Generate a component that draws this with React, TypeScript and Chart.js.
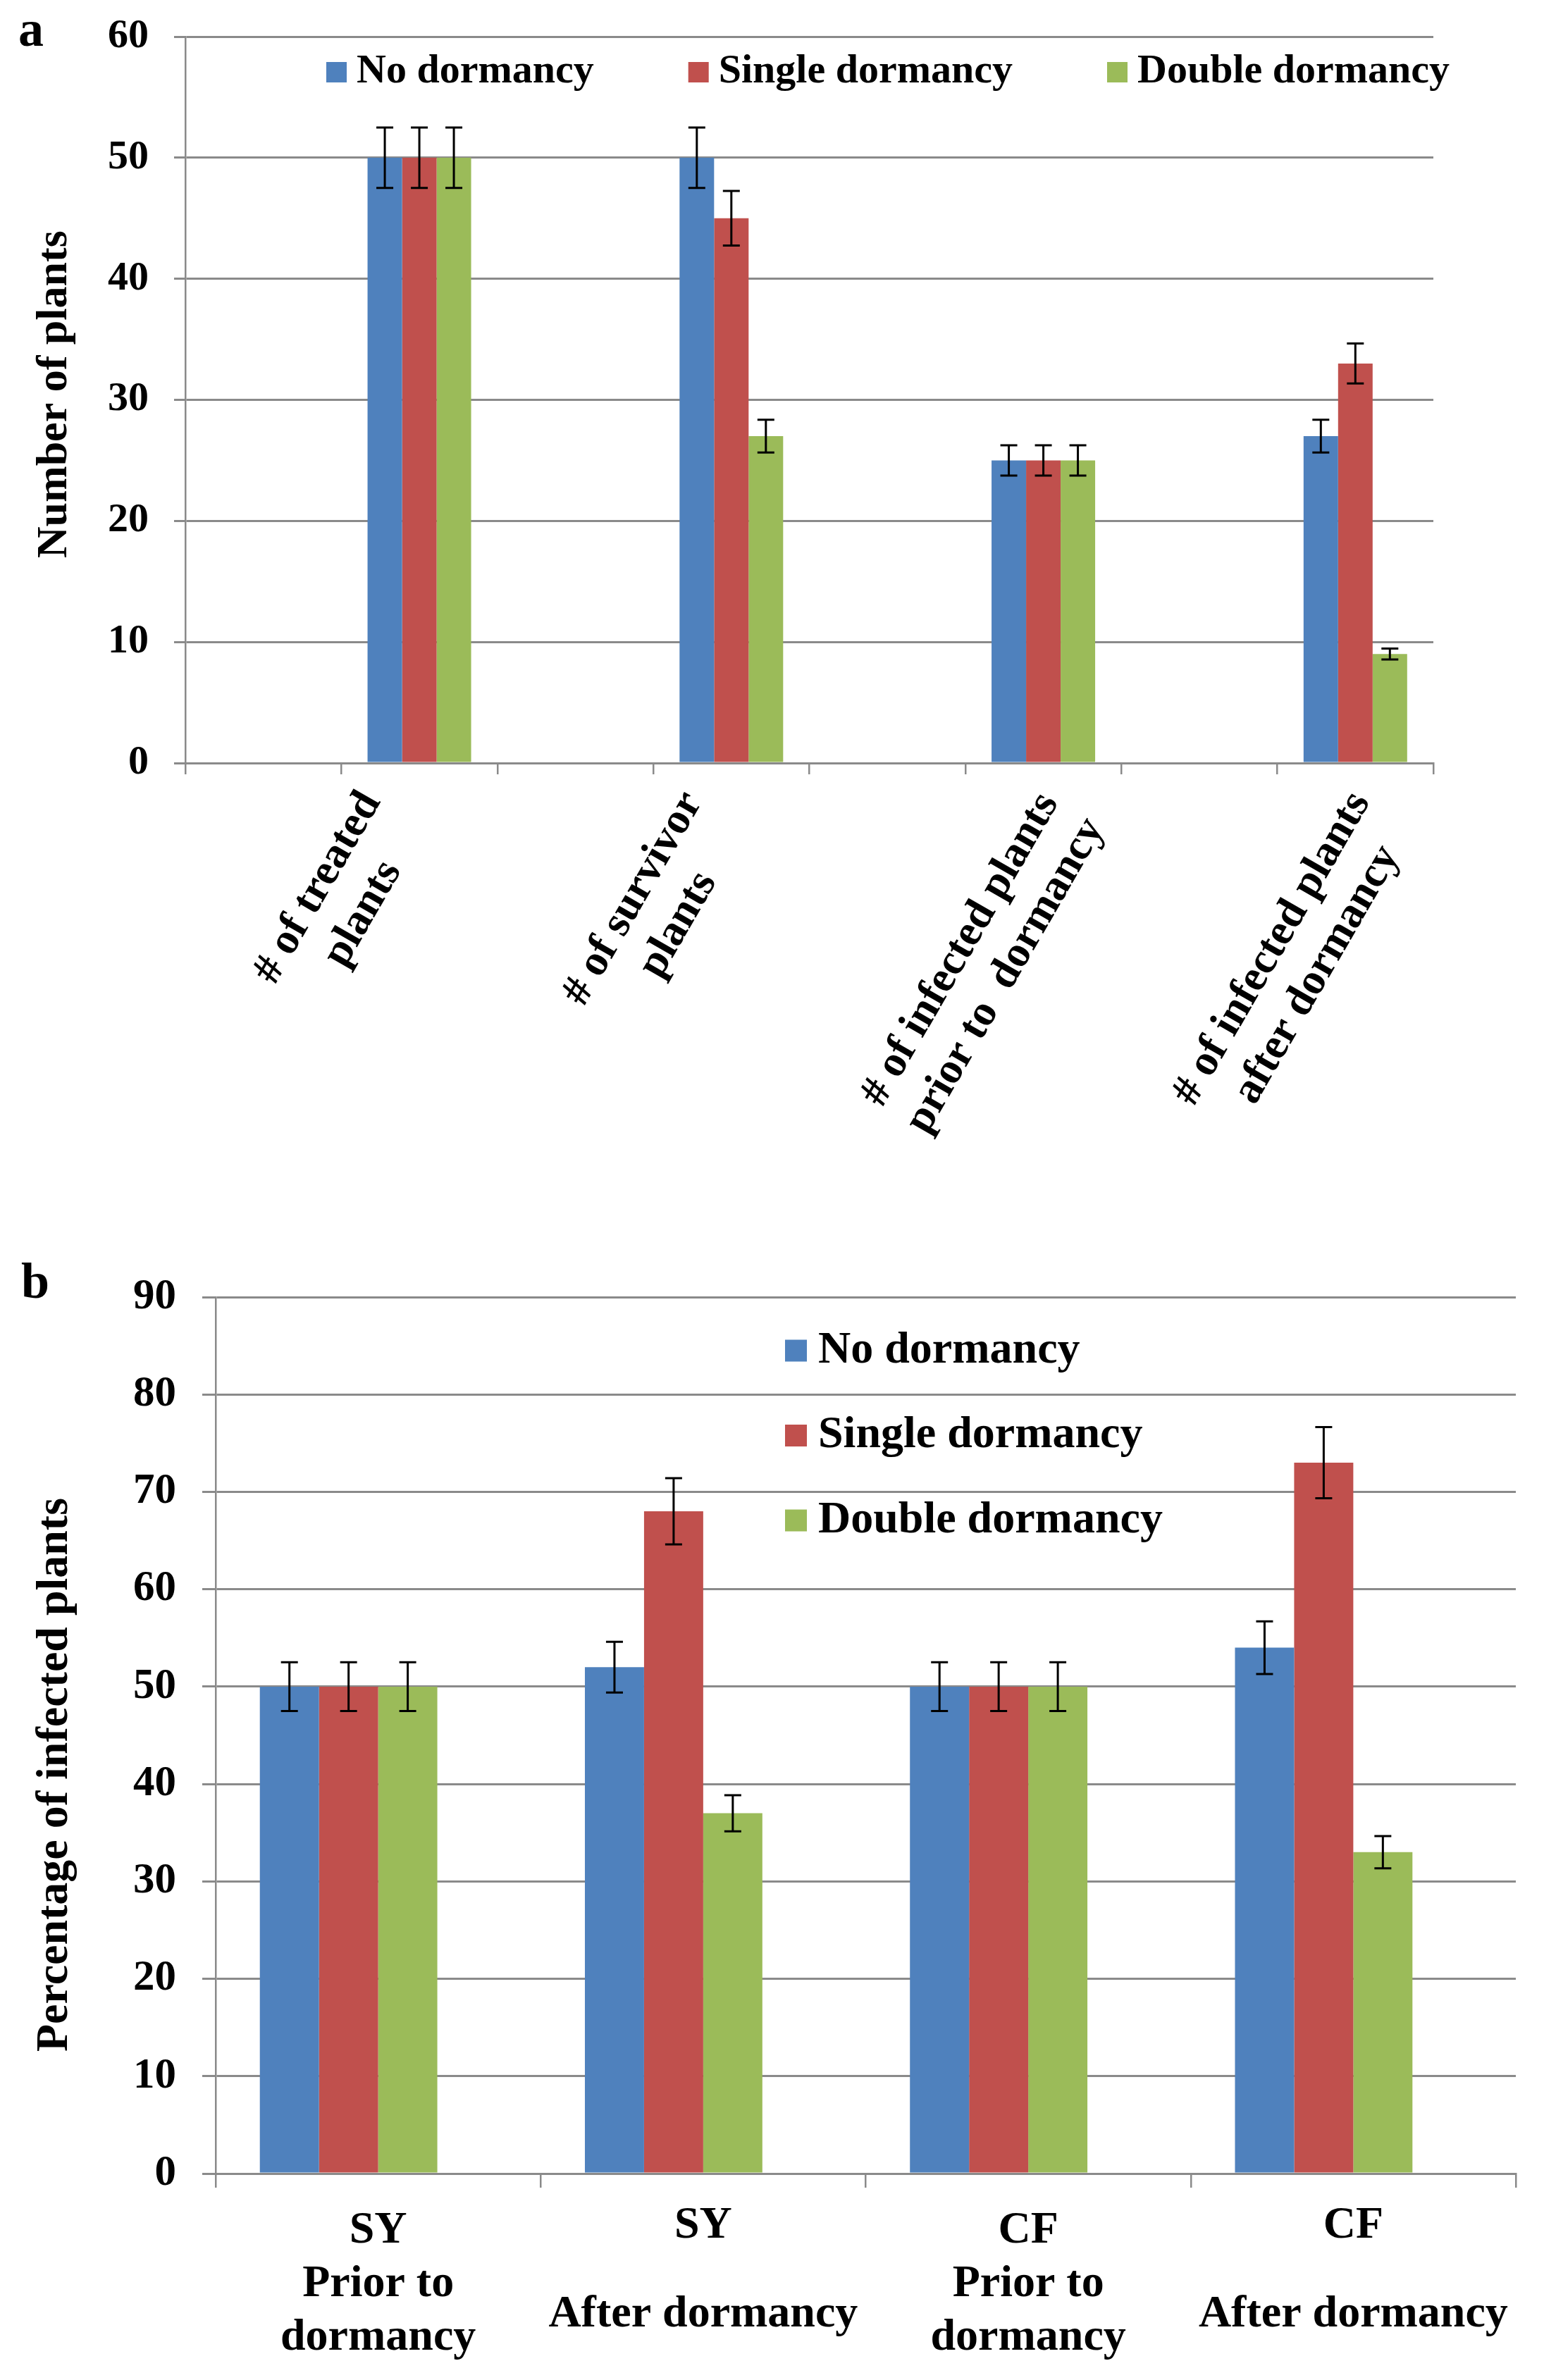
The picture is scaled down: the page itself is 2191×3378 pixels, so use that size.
import React, { useEffect, useRef } from 'react';
import { Chart, registerables } from 'chart.js';

Chart.register(...registerables);

// ---------- shared ----------
const seriesNames = ['No dormancy', 'Single dormancy', 'Double dormancy'];
const seriesColors = ['#4F81BD', '#C0504D', '#9BBB59'];

// ---------- panel a ----------
const categoriesA: string[][] = [
  ['# of treated', 'plants'],
  ['# of survivor', 'plants'],
  ['# of infected plants', 'prior to  dormancy'],
  ['# of infected plants', 'after dormancy'],
];
const noDormancyA = [50, 50, 25, 27];
const singleDormancyA = [50, 45, 25, 33];
const doubleDormancyA = [50, 27, 25, 9];
const noDormancyErrA = [2.5, 2.5, 1.25, 1.35];
const singleDormancyErrA = [2.5, 2.25, 1.25, 1.65];
const doubleDormancyErrA = [2.5, 1.35, 1.25, 0.45];
const yTicksA = [0, 10, 20, 30, 40, 50, 60];
const yTitleA = 'Number of plants';

// ---------- panel b ----------
const categoriesB: string[][] = [
  ['SY', 'Prior to', 'dormancy'],
  ['SY', '', 'After dormancy'],
  ['CF', 'Prior to', 'dormancy'],
  ['CF', '', 'After dormancy'],
];
const noDormancyB = [50, 52, 50, 54];
const singleDormancyB = [50, 68, 50, 73];
const doubleDormancyB = [50, 37, 50, 33];
const noDormancyErrB = [2.5, 2.6, 2.5, 2.7];
const singleDormancyErrB = [2.5, 3.4, 2.5, 3.65];
const doubleDormancyErrB = [2.5, 1.85, 2.5, 1.65];
const yTicksB = [0, 10, 20, 30, 40, 50, 60, 70, 80, 90];
const yTitleB = 'Percentage of infected plants';

const FAMILY = '"Liberation Serif", "Times New Roman", serif';
const GRID = '#8a8a8a';

const errorBars = {
  id: 'errorBars',
  afterDatasetsDraw(chart: any, _args: any, opts: any) {
    const ctx = chart.ctx;
    const y = chart.scales.y;
    const cap = opts.cap ?? 12;
    ctx.save();
    ctx.strokeStyle = '#000';
    ctx.lineWidth = opts.width ?? 3;
    chart.data.datasets.forEach((ds: any, i: number) => {
      if (!ds.errors) return;
      const meta = chart.getDatasetMeta(i);
      meta.data.forEach((el: any, j: number) => {
        const v = ds.data[j];
        const e = ds.errors[j];
        if (v == null || e == null) return;
        const x = el.x;
        const top = y.getPixelForValue(v + e);
        const bot = y.getPixelForValue(v - e);
        ctx.beginPath();
        ctx.moveTo(x, top);
        ctx.lineTo(x, bot);
        ctx.moveTo(x - cap, top);
        ctx.lineTo(x + cap, top);
        ctx.moveTo(x - cap, bot);
        ctx.lineTo(x + cap, bot);
        ctx.stroke();
      });
    });
    ctx.restore();
  },
};

const boxLegend = {
  id: 'boxLegend',
  afterDraw(chart: any, _args: any, opts: any) {
    const ctx = chart.ctx;
    ctx.save();
    ctx.font = `bold ${opts.size}px ${FAMILY}`;
    ctx.textBaseline = 'middle';
    ctx.textAlign = 'left';
    let x = opts.x;
    let y = opts.y;
    chart.data.datasets.forEach((ds: any) => {
      if (ds.inLegend === false) return;
      ctx.fillStyle = ds.backgroundColor;
      ctx.fillRect(x, y - opts.box / 2, opts.box, opts.box);
      ctx.fillStyle = '#000';
      ctx.fillText(ds.label, x + opts.box + opts.gap, y);
      const w = ctx.measureText(ds.label).width;
      if (opts.direction === 'row') x = x + opts.box + opts.gap + w + opts.spacing;
      else y += opts.spacing;
    });
    ctx.restore();
  },
};

// Excel-like slanted, centre-aligned multi-line category labels, placed at the x scale's ticks
const slantedLabels = {
  id: 'slantedLabels',
  afterDraw(chart: any, _args: any, opts: any) {
    const xs = chart.scales.x;
    const ctx = chart.ctx;
    ctx.save();
    ctx.font = `bold ${opts.size}px ${FAMILY}`;
    ctx.fillStyle = '#000';
    ctx.textBaseline = 'middle';
    ctx.textAlign = 'right';
    const L = opts.lineHeight;
    const rot = (-opts.angle * Math.PI) / 180;
    const y0 = xs.top + opts.offsetY;
    chart.data.labels.forEach((lab: any, i: number) => {
      if (!Array.isArray(lab)) return;
      const ws = lab.map((l: string) => ctx.measureText(l).width);
      const W = Math.max(...ws);
      const px = xs.getPixelForTick(i) + opts.slope * W + opts.shift;
      ctx.save();
      ctx.translate(px + (L / 2) * Math.sin(rot), y0);
      ctx.rotate(rot);
      lab.forEach((line: string, k: number) => ctx.fillText(line, -(W - ws[k]) / 2, L / 2 + k * L));
      ctx.restore();
    });
    ctx.restore();
  },
};

function makeChartA(canvas: HTMLCanvasElement) {
  const labels: any[] = categoriesA.flatMap((c) => ['', c]);
  const slot = (arr: number[]) => arr.flatMap((v) => [null, v]);
  const values = [noDormancyA, singleDormancyA, doubleDormancyA];
  const errs = [noDormancyErrA, singleDormancyErrA, doubleDormancyErrA];
  return new Chart(canvas, {
    type: 'bar',
    data: {
      labels,
      datasets: values.map((v, i) => ({
        label: seriesNames[i],
        data: slot(v),
        errors: slot(errs[i]),
        backgroundColor: seriesColors[i],
        borderWidth: 0,
        categoryPercentage: 0.664,
        barPercentage: 1,
      })) as any,
    },
    options: {
      responsive: false,
      maintainAspectRatio: false,
      devicePixelRatio: 1,
      animation: false,
      layout: { padding: { left: 0, top: 52, right: 157, bottom: 0 } },
      plugins: {
        legend: { display: false },
        tooltip: { enabled: false },
        errorBars: { cap: 12, width: 3 },
        boxLegend: { x: 463, y: 102.5, box: 29, gap: 14, spacing: 134, size: 58, direction: 'row' },
        slantedLabels: { size: 62, lineHeight: 74, angle: 60, offsetY: 28, slope: 0.38, shift: -183 },
      } as any,
      scales: {
        x: {
          afterFit: (s: any) => {
            s.height = 637;
            s.paddingLeft = 0;
            s.paddingRight = 0;
          },
          grid: { display: true, offset: true, drawOnChartArea: false, drawTicks: true, tickLength: 16, color: GRID, lineWidth: 2.5 },
          border: { display: true, color: GRID, width: 3 },
          ticks: { display: false, autoSkip: false },
        },
        y: {
          min: yTicksA[0],
          max: yTicksA[yTicksA.length - 1],
          afterFit: (s: any) => {
            s.width = 263;
            s.paddingTop = 0;
            s.paddingBottom = 0;
          },
          grid: { color: GRID, lineWidth: 3, tickLength: 16, drawTicks: true },
          border: { display: true, color: GRID, width: 2.5 },
          ticks: {
            stepSize: yTicksA[1] - yTicksA[0],
            padding: 36,
            color: '#000',
            font: { family: FAMILY, size: 58, weight: 'bold' },
          },
          title: {
            display: true,
            text: ' ' + yTitleA,
            color: '#000',
            padding: { top: 41, bottom: 0 },
            font: { family: FAMILY, size: 62, weight: 'bold' },
          },
        },
      },
    },
    plugins: [errorBars, boxLegend, slantedLabels],
  } as any);
}

function makeChartB(canvas: HTMLCanvasElement) {
  const values = [noDormancyB, singleDormancyB, doubleDormancyB];
  const errs = [noDormancyErrB, singleDormancyErrB, doubleDormancyErrB];
  const datasets: any[] = values.map((v, i) => ({
    label: seriesNames[i],
    data: v,
    errors: errs[i],
    backgroundColor: seriesColors[i],
    borderWidth: 0,
    categoryPercentage: 0.728,
    barPercentage: 1,
  }));
  // empty fourth slot of each group (present in the original Excel chart)
  datasets.push({
    label: '',
    inLegend: false,
    data: categoriesB.map(() => null),
    backgroundColor: 'rgba(0,0,0,0)',
    borderWidth: 0,
    categoryPercentage: 0.728,
    barPercentage: 1,
  });
  return new Chart(canvas, {
    type: 'bar',
    data: { labels: categoriesB as any, datasets },
    options: {
      responsive: false,
      maintainAspectRatio: false,
      devicePixelRatio: 1,
      animation: false,
      layout: { padding: { left: 0, top: 121, right: 40, bottom: 0 } },
      plugins: {
        legend: { display: false },
        tooltip: { enabled: false },
        errorBars: { cap: 12, width: 3 },
        boxLegend: { x: 1114, y: 197, box: 31, gap: 16, spacing: 120.5, size: 64, direction: 'column' },
      } as any,
      scales: {
        x: {
          afterFit: (s: any) => {
            s.height = 293;
            s.paddingLeft = 0;
            s.paddingRight = 0;
          },
          grid: { display: true, offset: true, drawOnChartArea: false, drawTicks: true, tickLength: 20, color: GRID, lineWidth: 2.5 },
          border: { display: true, color: GRID, width: 3 },
          ticks: {
            autoSkip: false,
            maxRotation: 0,
            minRotation: 0,
            padding: 23,
            color: '#000',
            font: (c: any) => ({
              family: FAMILY,
              size: 64,
              weight: 'bold',
              lineHeight: Array.isArray(c.tick?.label) && c.tick.label.includes('') ? '63px' : '76px',
            }),
          },
        },
        y: {
          min: yTicksB[0],
          max: yTicksB[yTicksB.length - 1],
          afterFit: (s: any) => {
            s.width = 306;
            s.paddingTop = 0;
            s.paddingBottom = 0;
          },
          grid: { color: GRID, lineWidth: 3, tickLength: 19, drawTicks: true },
          border: { display: true, color: GRID, width: 2.5 },
          ticks: {
            stepSize: yTicksB[1] - yTicksB[0],
            padding: 37,
            color: '#000',
            font: { family: FAMILY, size: 61, weight: 'bold' },
          },
          title: {
            display: true,
            text: yTitleB + '       ',
            color: '#000',
            padding: { top: 40, bottom: 0 },
            font: { family: FAMILY, size: 64, weight: 'bold' },
          },
        },
      },
    },
    plugins: [errorBars, boxLegend],
  } as any);
}

export default function App() {
  const refA = useRef<HTMLCanvasElement | null>(null);
  const refB = useRef<HTMLCanvasElement | null>(null);

  useEffect(() => {
    const a = refA.current ? makeChartA(refA.current) : null;
    const b = refB.current ? makeChartB(refB.current) : null;
    return () => {
      a?.destroy();
      b?.destroy();
    };
  }, []);

  const letter: React.CSSProperties = {
    position: 'absolute',
    fontFamily: FAMILY,
    fontWeight: 'bold',
    fontSize: 72,
    lineHeight: '72px',
    color: '#000',
  };

  return (
    <div style={{ position: 'absolute', left: 0, top: 0, width: 2191, height: 3378, background: '#fff', overflow: 'hidden' }}>
      <canvas ref={refA} width={2191} height={1720} style={{ position: 'absolute', left: 0, top: 0 }} />
      <canvas ref={refB} width={2191} height={1658} style={{ position: 'absolute', left: 0, top: 1720 }} />
      <div style={{ ...letter, left: 26, top: 5 }}>a</div>
      <div style={{ ...letter, left: 30, top: 1782 }}>b</div>
    </div>
  );
}
